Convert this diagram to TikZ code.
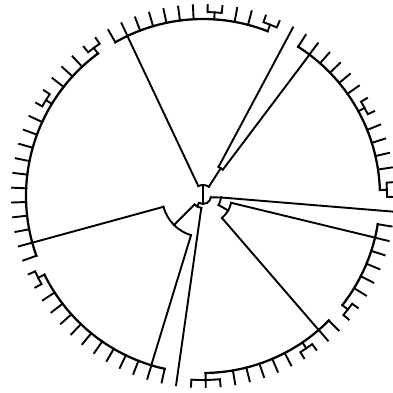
\documentclass[tikz,border=0pt]{standalone}
\usepackage{tikz}
\usetikzlibrary{calc}

\pgfmathdeclarefunction{tipang}{1}{\pgfmathparse{119.7-4.444*#1}}

\tikzset{
  branch/.style={line width=1.35pt, line cap=rect, line join=miter},
  clade/.style={line width=1.6pt},
}

% two joined leaves (index, index)
\newcommand{\cherry}[2]{%
  \pgfmathsetmacro{\chA}{tipang(#1)}%
  \pgfmathsetmacro{\chB}{tipang(#2)}%
  \pgfmathsetmacro{\chM}{(\chA+\chB)/2}%
  \draw[branch] (\chM:177) -- (\chM:184);
  \draw[branch] (\chA:191) -- (\chA:184)
    arc[start angle=\chA, end angle=\chB, radius=184] -- (\chB:191);}

\begin{document}
\begin{tikzpicture}[x=0.025cm, y=0.025cm]
  \useasboundingbox (-203,-197) rectangle (190,196);

  % inner part of the tree
  \draw[branch] (0,-1) -- (90:11);
  \draw[branch] (57.5:11) arc[start angle=57.5, end angle=115.3, radius=11];
  \draw[branch] (115.3:11) -- (115.3:177);
  \draw[branch] (57.5:11) -- (57.5:33);
  \draw[branch] (53.0:33) arc[start angle=53.0, end angle=61.9, radius=33];
  \draw[branch] (61.9:33) -- (61.9:191);
  \draw[branch] (53.0:33) -- (53.0:177);

  \draw[branch] (0,-1) -- (270:8);
  \draw[branch] (240:8) arc[start angle=240, end angle=350, radius=8];
  \draw[branch] (240:8) -- (240:12);
  \draw[branch] (225:12) arc[start angle=225, end angle=261.9, radius=12];
  \draw[branch] (225:12) -- (225:41);
  \draw[branch] (195.3:41) arc[start angle=195.3, end angle=253.0, radius=41];
  \draw[branch] (195.3:41) -- (195.3:177);
  \draw[branch] (253.0:41) -- (253.0:177);
  \draw[branch] (261.9:12) -- (261.9:191);

  \draw[branch] (350:8) -- (355.3:18);
  \draw[branch] (-4.7:18) arc[start angle=-4.7, end angle=-30, radius=18];
  \draw[branch] (-4.7:18) -- (-4.7:191);
  \draw[branch] (-30:18) -- (-30:29);
  \draw[branch] (-13.6:29) arc[start angle=-13.6, end angle=-49.2, radius=29];
  \draw[branch] (-13.6:29) -- (-13.6:177);
  \draw[branch] (-49.2:29) -- (-49.2:177);

  % top clade
  \draw[branch, clade] ({tipang(0)}:177) arc[start angle={tipang(0)}, end angle={(tipang(11)+tipang(12))/2}, radius=177];
  \foreach \i in {0,...,6,9,10}
    \draw[branch] ({tipang(\i)}:177) -- ({tipang(\i)}:191);
  \cherry{7}{8}
  \cherry{11}{12}

  % upper right clade
  \draw[branch, clade] ({tipang(14)}:177) arc[start angle={tipang(14)}, end angle={(tipang(26)+tipang(27))/2}, radius=177];
  \foreach \i in {14,...,19,22,23,24,25}
    \draw[branch] ({tipang(\i)}:177) -- ({tipang(\i)}:191);
  \cherry{20}{21}
  \cherry{26}{27}

  % right clade
  \draw[branch, clade] ({tipang(29)}:177) arc[start angle={tipang(29)}, end angle={(tipang(35)+tipang(36))/2}, radius=177];
  \foreach \i in {29,...,34}
    \draw[branch] ({tipang(\i)}:177) -- ({tipang(\i)}:191);
  \cherry{35}{36}

  % lower right clade
  \draw[branch, clade] ({tipang(37)}:177) arc[start angle={tipang(37)}, end angle={tipang(47)}, radius=177];
  \foreach \i in {37,38,41,42,43,44,45}
    \draw[branch] ({tipang(\i)}:177) -- ({tipang(\i)}:191);
  \cherry{39}{40}
  \draw[branch] ({tipang(47)}:177) -- ({tipang(47)}:184);
  \draw[branch] ({tipang(46)}:191) -- ({tipang(46)}:184)
    arc[start angle={tipang(46)}, end angle={tipang(48)}, radius=184] -- ({tipang(48)}:191);
  \draw[branch] ({tipang(47)}:184) -- ({tipang(47)}:191);

  % bottom left clade
  \draw[branch, clade] ({tipang(50)}:177) arc[start angle={tipang(50)}, end angle={(tipang(61)+tipang(62))/2}, radius=177];
  \foreach \i in {50,...,60}
    \draw[branch] ({tipang(\i)}:177) -- ({tipang(\i)}:191);
  \cherry{61}{62}

  % left clade
  \draw[branch, clade] ({tipang(63)}:177) arc[start angle={tipang(63)}, end angle={(tipang(79)+tipang(80))/2}, radius=177];
  \foreach \i in {63,...,73,76,77,78}
    \draw[branch] ({tipang(\i)}:177) -- ({tipang(\i)}:191);
  \cherry{74}{75}
  \cherry{79}{80}
\end{tikzpicture}
\end{document}
